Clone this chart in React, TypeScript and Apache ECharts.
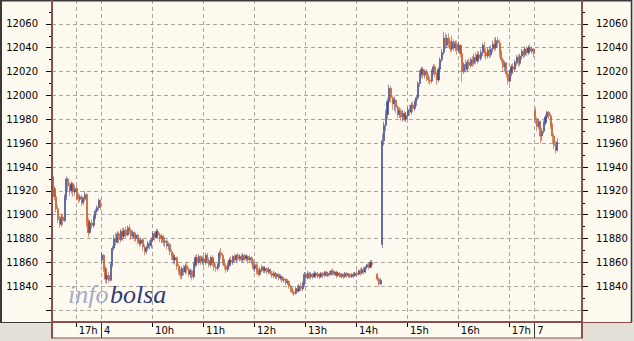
import React, { useEffect, useRef } from 'react';
import * as echarts from 'echarts';

// Sessions on the time axis (2-minute slots)
const sessionDays = ['3', '4', '7'];
const sessionStarts = ['16:32', '09:00', '09:00'];
const sessionSlots = [29, 255, 28];

// Price labels shown on the vertical axes
const priceLabels = [11840, 11860, 11880, 11900, 11920, 11940, 11960, 11980, 12000, 12020, 12040, 12060];

// OHLC bars: [open, close, low, high]
type Bar = [number, number, number, number] | null;

const prevDayBars: Bar[] = [
  [11932, 11922, 11918, 11934], [11922, 11915, 11912, 11924], [11915, 11905, 11902, 11918], [11905, 11896, 11893, 11908], [11896, 11892, 11889, 11899],
  [11892, 11898, 11890, 11900], [11898, 11895, 11891, 11901], [11895, 11915, 11894, 11917], [11915, 11930, 11912, 11932], [11930, 11924, 11920, 11931],
  [11924, 11920, 11916, 11927], [11920, 11926, 11918, 11928], [11926, 11919, 11915, 11927], [11919, 11922, 11916, 11925], [11922, 11916, 11912, 11924],
  [11916, 11913, 11910, 11918], [11913, 11915, 11911, 11917], [11915, 11910, 11907, 11917], [11910, 11913, 11908, 11915], [11913, 11917, 11911, 11920],
  [11917, 11895, 11890, 11918], [11895, 11885, 11881, 11897], [11885, 11893, 11884, 11895], [11893, 11891, 11888, 11896], [11891, 11898, 11889, 11900],
  [11898, 11903, 11896, 11905], [11903, 11906, 11901, 11908], [11906, 11912, 11904, 11914], [11912, 11906, 11904, 11913],
];

const day4Morning: Bar[] = [
  [11862, 11866, 11858, 11868], [11866, 11855, 11852, 11867], [11855, 11846, 11843, 11857], [11846, 11849, 11842, 11851], [11849, 11845, 11843, 11852],
  [11845, 11858, 11844, 11860], [11858, 11872, 11856, 11874], [11872, 11880, 11870, 11883], [11880, 11877, 11874, 11885], [11877, 11884, 11876, 11886],
  [11884, 11879, 11876, 11886], [11879, 11886, 11877, 11888], [11886, 11882, 11878, 11889], [11882, 11887, 11880, 11889], [11887, 11883, 11880, 11890],
  [11883, 11889, 11882, 11891], [11889, 11887, 11884, 11892], [11887, 11882, 11879, 11889], [11882, 11885, 11880, 11887], [11885, 11880, 11877, 11886],
  [11880, 11883, 11878, 11885], [11883, 11878, 11875, 11884], [11878, 11876, 11873, 11880], [11876, 11879, 11874, 11881], [11879, 11873, 11870, 11880],
  [11873, 11869, 11866, 11875], [11869, 11872, 11867, 11874], [11872, 11876, 11870, 11878], [11876, 11874, 11871, 11879], [11874, 11879, 11872, 11881],
  // 10h
  [11879, 11884, 11877, 11886], [11884, 11881, 11878, 11886], [11881, 11886, 11880, 11888], [11886, 11883, 11881, 11888], [11883, 11880, 11877, 11885],
  [11880, 11882, 11876, 11884], [11882, 11877, 11874, 11883], [11877, 11878, 11873, 11881], [11878, 11874, 11871, 11879], [11874, 11875, 11870, 11877],
  [11875, 11869, 11866, 11876], [11869, 11866, 11862, 11871], [11866, 11862, 11859, 11868], [11862, 11864, 11858, 11866], [11864, 11857, 11854, 11865],
  [11857, 11853, 11850, 11859], [11853, 11849, 11846, 11855], [11849, 11855, 11846, 11857], [11855, 11852, 11849, 11858], [11852, 11857, 11850, 11859],
  [11857, 11854, 11851, 11860], [11854, 11850, 11848, 11856], [11850, 11853, 11847, 11855], [11853, 11848, 11845, 11854], [11848, 11858, 11846, 11860],
  [11858, 11864, 11856, 11866], [11864, 11860, 11857, 11867], [11860, 11865, 11858, 11867], [11865, 11861, 11858, 11866], [11861, 11863, 11858, 11865],
  // 11h
  [11863, 11860, 11857, 11866], [11860, 11866, 11858, 11868], [11866, 11862, 11859, 11868], [11862, 11858, 11856, 11864], [11858, 11864, 11856, 11866],
  [11864, 11860, 11857, 11866], [11860, 11856, 11853, 11862], [11856, 11855, 11852, 11859], [11855, 11858, 11853, 11860], [11858, 11868, 11856, 11870],
  [11868, 11866, 11863, 11872], [11866, 11861, 11858, 11868], [11861, 11857, 11854, 11863], [11857, 11854, 11851, 11859], [11854, 11858, 11852, 11860],
  [11858, 11862, 11856, 11864], [11862, 11860, 11857, 11865], [11860, 11865, 11858, 11866], [11865, 11862, 11860, 11867], [11862, 11866, 11860, 11867],
  [11866, 11863, 11861, 11868], [11863, 11865, 11861, 11867], [11865, 11862, 11860, 11867], [11862, 11866, 11860, 11868], [11866, 11863, 11861, 11867],
  [11863, 11865, 11861, 11867], [11865, 11862, 11859, 11866], [11862, 11864, 11860, 11866], [11864, 11860, 11858, 11865], [11860, 11855, 11853, 11862],
  // 12h
  [11855, 11858, 11852, 11860], [11858, 11853, 11850, 11860], [11853, 11850, 11848, 11855], [11850, 11854, 11849, 11856], [11854, 11856, 11852, 11858],
  [11856, 11853, 11851, 11857], [11853, 11855, 11851, 11857], [11855, 11852, 11850, 11856], [11852, 11854, 11850, 11856], [11854, 11851, 11849, 11855],
  [11851, 11849, 11847, 11853], [11849, 11851, 11847, 11853], [11851, 11848, 11846, 11852], [11848, 11850, 11846, 11851], [11850, 11847, 11845, 11851],
  [11847, 11848, 11845, 11850], [11848, 11845, 11843, 11849], [11845, 11846, 11843, 11848], [11846, 11843, 11841, 11847], [11843, 11844, 11841, 11846],
  [11844, 11840, 11838, 11845], [11840, 11837, 11835, 11841], [11837, 11835, 11833, 11839], [11835, 11834, 11832, 11837], [11834, 11838, 11833, 11840],
  [11838, 11836, 11835, 11841], [11836, 11840, 11835, 11842], [11840, 11838, 11836, 11843], [11838, 11842, 11836, 11844], [11842, 11850, 11840, 11852],
];

const day4Afternoon: Bar[] = [
  // 13h
  [11850, 11847, 11845, 11852], [11847, 11851, 11846, 11853], [11851, 11848, 11846, 11852], [11848, 11850, 11846, 11852], [11850, 11848, 11846, 11851],
  [11848, 11851, 11847, 11853], [11851, 11849, 11847, 11852], [11849, 11850, 11847, 11852], [11850, 11848, 11846, 11851], [11848, 11851, 11847, 11852],
  [11851, 11849, 11847, 11852], [11849, 11852, 11848, 11853], [11852, 11849, 11848, 11853], [11849, 11851, 11848, 11852], [11851, 11850, 11848, 11853],
  [11850, 11853, 11849, 11854], [11853, 11850, 11849, 11855], [11850, 11852, 11849, 11853], [11852, 11849, 11847, 11853], [11849, 11851, 11848, 11852],
  [11851, 11848, 11847, 11852], [11848, 11850, 11847, 11851], [11850, 11848, 11846, 11851], [11848, 11851, 11847, 11852], [11851, 11849, 11847, 11852],
  [11849, 11850, 11847, 11851], [11850, 11848, 11847, 11851], [11848, 11850, 11847, 11851], [11850, 11849, 11847, 11852], [11849, 11851, 11848, 11852],
  // 14h
  [11851, 11850, 11848, 11853], [11850, 11853, 11849, 11854], [11853, 11851, 11849, 11855], [11851, 11854, 11850, 11856], [11854, 11852, 11850, 11856],
  [11852, 11856, 11851, 11857], [11856, 11858, 11854, 11859], [11858, 11856, 11854, 11860], [11856, 11860, 11855, 11862], [11860, 11858, 11856, 11862],
  null, null,
  [11850, 11846, 11844, 11851], [11846, 11842, 11840, 11848], [11842, 11845, 11841, 11847], [11875, 11962, 11872, 11968], [11962, 11975, 11958, 11978],
  [11975, 11984, 11970, 11988], [11984, 11995, 11980, 11998], [11995, 12006, 11992, 12009], [12006, 11998, 11994, 12008], [11998, 11993, 11988, 12000],
  [11993, 11996, 11987, 11999], [11996, 11990, 11985, 11997], [11990, 11984, 11981, 11992], [11984, 11987, 11981, 11990], [11987, 11982, 11979, 11989],
  [11982, 11985, 11978, 11988], [11985, 11980, 11978, 11987], [11980, 11983, 11978, 11986],
  // 15h
  [11983, 11988, 11980, 11990], [11988, 11986, 11983, 11992], [11986, 11992, 11984, 11994], [11992, 11989, 11986, 11995], [11989, 11994, 11987, 11996],
  [11994, 11998, 11991, 12000], [11998, 12010, 11996, 12012], [12010, 12018, 12007, 12021], [12018, 12022, 12015, 12024], [12022, 12017, 12014, 12024],
  [12017, 12020, 12014, 12022], [12020, 12015, 12012, 12022], [12015, 12013, 12010, 12018], [12013, 12012, 12009, 12016], [12012, 12020, 12010, 12022],
  [12020, 12024, 12017, 12026], [12024, 12018, 12015, 12026], [12018, 12013, 12009, 12020], [12013, 12022, 12011, 12024], [12022, 12030, 12020, 12032],
  [12030, 12036, 12028, 12039], [12036, 12048, 12034, 12053], [12048, 12042, 12039, 12052], [12042, 12048, 12040, 12051], [12048, 12044, 12040, 12052],
  [12044, 12039, 12036, 12046], [12039, 12045, 12037, 12050], [12045, 12040, 12037, 12047], [12040, 12043, 12037, 12046], [12043, 12038, 12034, 12046],
  // 16h
  [12038, 12042, 12036, 12045], [12042, 12035, 12032, 12043], [12035, 12020, 12011, 12037], [12020, 12026, 12018, 12028], [12026, 12022, 12019, 12030],
  [12022, 12028, 12020, 12030], [12028, 12025, 12022, 12031], [12025, 12030, 12023, 12032], [12030, 12027, 12024, 12033], [12027, 12032, 12025, 12035],
  [12032, 12029, 12026, 12036], [12029, 12034, 12027, 12037], [12034, 12031, 12028, 12037], [12031, 12036, 12029, 12039], [12036, 12042, 12033, 12044],
  [12042, 12036, 12032, 12045], [12036, 12033, 12030, 12040], [12033, 12038, 12031, 12040], [12038, 12034, 12031, 12041], [12034, 12039, 12032, 12042],
  [12039, 12043, 12036, 12046], [12043, 12040, 12037, 12048], [12040, 12046, 12038, 12049], [12046, 12044, 12040, 12049], [12044, 12036, 12032, 12047],
  [12036, 12030, 12027, 12038], [12030, 12024, 12020, 12032], [12024, 12027, 12020, 12029], [12027, 12018, 12015, 12028], [12018, 12012, 12009, 12020],
  // 17h
  [12012, 12019, 12010, 12022], [12019, 12024, 12016, 12026], [12024, 12022, 12018, 12027], [12022, 12028, 12020, 12030], [12028, 12032, 12025, 12034],
  [12032, 12027, 12024, 12034], [12027, 12033, 12025, 12035], [12033, 12037, 12030, 12039], [12037, 12034, 12031, 12039], [12034, 12039, 12032, 12041],
  [12039, 12036, 12033, 12041], [12036, 12040, 12034, 12042], [12040, 12037, 12035, 12043], [12037, 12039, 12035, 12041], [12039, 12035, 12032, 12040],
];

const day7Bars: Bar[] = [
  [11988, 11980, 11976, 11990], [11980, 11974, 11970, 11982], [11974, 11978, 11972, 11981], [11978, 11966, 11960, 11979], [11966, 11970, 11962, 11973],
  [11970, 11977, 11968, 11979], [11977, 11982, 11975, 11984], [11982, 11986, 11980, 11987], [11986, 11983, 11980, 11987], [11983, 11975, 11972, 11985],
  [11975, 11966, 11960, 11977], [11966, 11958, 11955, 11968], [11958, 11954, 11951, 11962], [11954, 11961, 11953, 11964],
];

const UP = '#3c4a8e';
const DOWN = '#c4501e';
const BROWN = '#8e4e4e';
const DARK = '#3a3a3a';
const CREAM = '#fffaf0';
const GRAY = '#e3e0d8';
const GRID = '#aaa69c';
const FONT = 'DejaVu Sans';
const SERIF = '"Liberation Serif", "DejaVu Serif", serif';

export default function App() {
  const ref = useRef<HTMLDivElement>(null);

  useEffect(() => {
    if (!ref.current) return;
    const chart = echarts.init(ref.current, undefined, { renderer: 'svg' });

    // Build categories (2-minute slots)
    const categories: string[] = [];
    const isHour: boolean[] = [];
    const isDayStart: boolean[] = [];
    const hourText: string[] = [];
    sessionDays.forEach((day, s) => {
      const [h0, m0] = sessionStarts[s].split(':').map(Number);
      for (let k = 0; k < sessionSlots[s]; k++) {
        const t = h0 * 60 + m0 + 2 * k;
        const hh = Math.floor(t / 60);
        const mm = t % 60;
        categories.push(`${day} ${String(hh).padStart(2, '0')}:${String(mm).padStart(2, '0')}`);
        const dayStart = k === 0 && s > 0;
        isDayStart.push(dayStart);
        isHour.push(mm === 0 && !dayStart);
        hourText.push(dayStart ? day : `${hh}h`);
      }
    });

    const bars: Bar[] = [...prevDayBars, ...day4Morning, ...day4Afternoon, ...day7Bars];
    const data = categories.map((_, i) => (i < bars.length && bars[i] ? bars[i] : '-'));

    const yCommon = {
      type: 'value',
      gridIndex: 1,
      min: 11800,
      max: 12080,
      interval: 20,
      axisLine: { show: false },
      axisTick: { show: true, length: 6, lineStyle: { color: '#000', width: 1 } },
      minorTick: { show: true, splitNumber: 2, length: 3, lineStyle: { color: '#000', width: 1 } },
      axisLabel: {
        margin: 14,
        fontFamily: FONT,
        fontSize: 10,
        color: '#000',
        showMinLabel: false,
        showMaxLabel: false,
        formatter: (v: number) => (priceLabels.indexOf(Math.round(v)) >= 0 ? String(Math.round(v)) : ''),
      },
    };

    const option: any = {
      animation: false,
      backgroundColor: CREAM,
      grid: [
        { left: 52, right: 52, top: 0, bottom: 19, show: false },
        { left: 52, right: 52, top: -2, bottom: 7, show: false },
      ],
      xAxis: [
        {
          type: 'category',
          gridIndex: 0,
          data: categories,
          boundaryGap: true,
          position: 'bottom',
          axisLine: { show: false },
          axisTick: {
            show: true,
            interval: (i: number) => isHour[i],
            length: 5,
            lineStyle: { color: '#000' },
          },
          axisLabel: {
            interval: (i: number) => isHour[i],
            formatter: (_v: string, i: number) => hourText[i],
            align: 'left',
            padding: [0, 0, 0, 2],
            margin: 3,
            fontFamily: FONT,
            fontSize: 10,
            color: '#000',
          },
          splitLine: {
            show: true,
            interval: (i: number) => isHour[i] || isDayStart[i],
            lineStyle: { type: [4, 3], color: GRID, width: 1 },
          },
        },
        {
          type: 'category',
          gridIndex: 0,
          data: categories,
          boundaryGap: true,
          position: 'bottom',
          offset: 0,
          axisLine: { show: false },
          axisTick: {
            show: true,
            interval: (i: number) => isDayStart[i],
            length: 16,
            lineStyle: { color: DARK },
          },
          axisLabel: {
            interval: (i: number) => isDayStart[i],
            formatter: (_v: string, i: number) => hourText[i],
            align: 'left',
            padding: [0, 0, 0, 2],
            margin: 3,
            fontFamily: FONT,
            fontSize: 10,
            color: '#000',
          },
          splitLine: { show: false },
        },
        {
          type: 'category',
          gridIndex: 1,
          data: categories,
          boundaryGap: true,
          show: false,
        },
      ],
      yAxis: [
        { type: 'value', gridIndex: 0, show: false, min: 0, max: 1, splitLine: { show: false } },
        {
          ...yCommon,
          position: 'left',
          splitLine: {
            show: true,
            showMinLine: false,
            showMaxLine: false,
            lineStyle: { type: [4, 3], color: GRID, width: 1 },
          },
        },
        { ...yCommon, position: 'right', splitLine: { show: false } },
      ],
      series: [
        {
          type: 'candlestick',
          xAxisIndex: 2,
          yAxisIndex: 1,
          data,
          barWidth: 1.6,
          itemStyle: {
            color: UP,
            color0: DOWN,
            borderColor: UP,
            borderColor0: DOWN,
            borderWidth: 0.6,
          },
        },
      ],
      graphic: [
        { type: 'text', x: 68, y: 294, z: 1, style: { text: 'info', fill: '#a4aac8', font: `italic 26px ${SERIF}`, verticalAlign: 'middle' } },
        { type: 'text', x: 110, y: 294, z: 1, style: { text: 'bolsa', fill: '#2e3c78', font: `italic 26px ${SERIF}`, verticalAlign: 'middle' } },
        { type: 'rect', z: 100, shape: { x: 0, y: 322, width: 52, height: 19 }, style: { fill: GRAY } },
        { type: 'rect', z: 100, shape: { x: 582, y: 322, width: 52, height: 19 }, style: { fill: GRAY } },
        { type: 'rect', z: 100, shape: { x: 52, y: 338, width: 530, height: 3 }, style: { fill: GRAY } },
        { type: 'rect', z: 100, shape: { x: 632, y: 0, width: 2, height: 322 }, style: { fill: GRAY } },
        // outer dark border
        { type: 'line', z: 101, shape: { x1: 0, y1: 0.75, x2: 632, y2: 0.75 }, style: { stroke: DARK, lineWidth: 1.5 } },
        { type: 'line', z: 101, shape: { x1: 1, y1: 0, x2: 1, y2: 322 }, style: { stroke: DARK, lineWidth: 2 } },
        { type: 'line', z: 101, shape: { x1: 631.5, y1: 0, x2: 631.5, y2: 322 }, style: { stroke: DARK, lineWidth: 1.5 } },
        { type: 'line', z: 101, shape: { x1: 0, y1: 322.5, x2: 52, y2: 322.5 }, style: { stroke: DARK, lineWidth: 1 } },
        { type: 'line', z: 101, shape: { x1: 582, y1: 322.5, x2: 632, y2: 322.5 }, style: { stroke: BROWN, lineWidth: 1 } },
        // brown plot frame
        { type: 'line', z: 102, shape: { x1: 52, y1: 0, x2: 52, y2: 338.5 }, style: { stroke: BROWN, lineWidth: 2 } },
        { type: 'line', z: 102, shape: { x1: 582, y1: 0, x2: 582, y2: 338.5 }, style: { stroke: BROWN, lineWidth: 2 } },
        { type: 'line', z: 102, shape: { x1: 52, y1: 322, x2: 582, y2: 322 }, style: { stroke: BROWN, lineWidth: 2 } },
        { type: 'line', z: 102, shape: { x1: 52, y1: 338, x2: 582, y2: 338 }, style: { stroke: BROWN, lineWidth: 1.2 } },
      ],
    };

    chart.setOption(option);
    return () => chart.dispose();
  }, []);

  return (
    <div
      ref={ref}
      style={{ position: 'fixed', left: 0, top: 0, width: 634, height: 341, background: CREAM }}
    />
  );
}
